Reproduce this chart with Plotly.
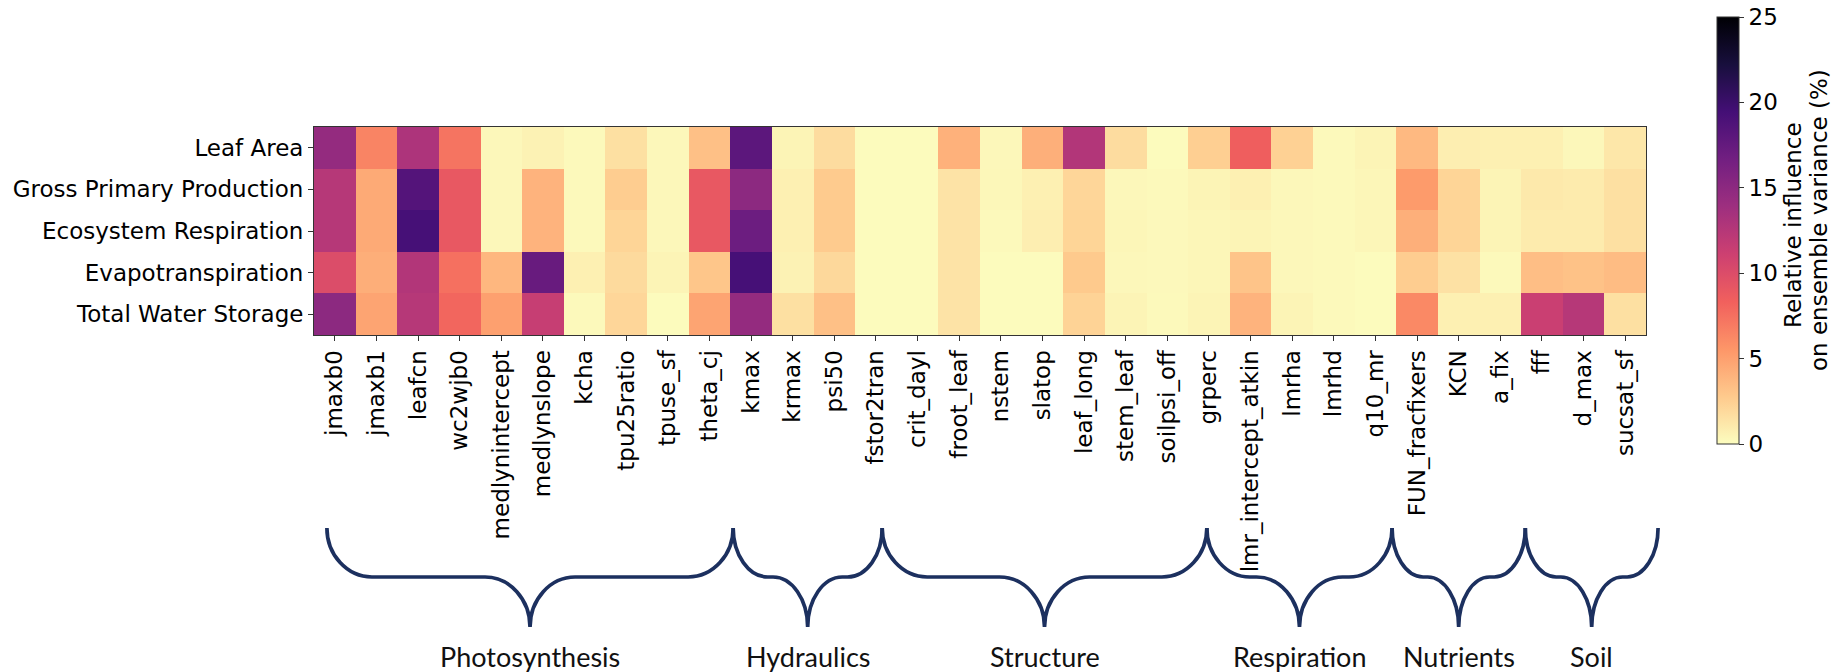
import plotly.graph_objects as go

# ---------------- data ----------------
params = ["jmaxb0", "jmaxb1", "leafcn", "wc2wjb0", "medlynintercept", "medlynslope",
          "kcha", "tpu25ratio", "tpuse_sf", "theta_cj", "kmax", "krmax", "psi50",
          "fstor2tran", "crit_dayl", "froot_leaf", "nstem", "slatop", "leaf_long",
          "stem_leaf", "soilpsi_off", "grperc", "lmr_intercept_atkin", "lmrha", "lmrhd",
          "q10_mr", "FUN_fracfixers", "KCN", "a_fix", "fff", "d_max", "sucsat_sf"]

outputs = ["Leaf Area", "Gross Primary Production", "Ecosystem Respiration",
           "Evapotranspiration", "Total Water Storage"]

leaf_area = [14.5, 6.5, 13.0, 7.3, 0.3, 0.6, 0.2, 1.6, 0.3, 3.3, 18.0, 0.5, 1.8, 0.1, 0.1, 4.1,
             0.3, 4.2, 12.7, 1.8, 0.1, 2.5, 8.5, 2.4, 0.2, 0.5, 3.7, 0.8, 0.7, 0.7, 0.3, 1.2]
gross_primary_production = [12.5, 4.5, 18.5, 9.0, 0.3, 4.0, 0.2, 2.6, 0.3, 9.0, 15.0, 0.7, 2.7, 0.1, 0.1, 1.4,
                            0.35, 0.7, 2.1, 0.3, 0.2, 0.5, 0.7, 0.3, 0.2, 0.4, 5.3, 2.2, 0.5, 1.1, 1.0, 1.6]
ecosystem_respiration = [12.5, 4.5, 19.3, 9.0, 0.3, 4.0, 0.2, 2.2, 0.3, 9.0, 17.0, 0.7, 2.7, 0.1, 0.1, 1.4,
                         0.2, 0.8, 2.2, 0.4, 0.25, 0.4, 0.5, 0.3, 0.2, 0.4, 4.2, 2.2, 0.5, 1.0, 1.0, 1.6]
evapotranspiration = [10.0, 4.3, 12.7, 7.5, 3.8, 17.3, 0.7, 1.9, 0.5, 3.0, 19.3, 0.6, 2.0, 0.1, 0.1, 1.4,
                      0.1, 0.1, 2.8, 0.3, 0.25, 0.4, 3.1, 0.3, 0.2, 0.1, 2.6, 1.5, 0.2, 3.4, 3.2, 3.5]
total_water_storage = [15.0, 4.8, 12.5, 8.0, 5.0, 11.5, 0.2, 2.1, 0.1, 4.8, 14.5, 1.6, 3.3, 0.1, 0.1, 1.4,
                       0.1, 0.1, 2.3, 0.5, 0.2, 0.5, 4.0, 0.5, 0.2, 0.1, 6.2, 0.7, 0.7, 11.3, 12.5, 1.6]

# parameter groups: name, first/last edge expressed in column units
group_names = ["Photosynthesis", "Hydraulics", "Structure", "Respiration", "Nutrients", "Soil"]
group_start = [-0.19, 9.57, 13.15, 20.95, 25.4, 28.6]
group_end = [9.57, 13.15, 20.95, 25.4, 28.6, 31.79]

colorbar_ticks = [0, 5, 10, 15, 20, 25]
colorbar_title_lines = ["Relative influence", "on ensemble variance (%)"]

# ---------------- layout constants ----------------
W, H = 1833, 672
X0, X1 = 314, 1646           # heatmap left/right (px)
Y0, Y1 = 127, 335            # heatmap top/bottom (px)
xdom = [X0 / W, X1 / W]
ydom = [1 - Y1 / H, 1 - Y0 / H]
TICKFONT = dict(family="DejaVu Sans", size=23, color="black")
BRACE_COLOR = "#1c305f"

z = [leaf_area, gross_primary_production, ecosystem_respiration,
     evapotranspiration, total_water_storage]
ncol = len(params)

fig = go.Figure(go.Heatmap(
    z=z, x=list(range(ncol)), y=outputs,
    colorscale="magma_r", zmin=0, zmax=25,
    colorbar=dict(
        x=1717 / W, xanchor="left", xpad=0,
        y=1 - 17 / H, yanchor="top", ypad=0,
        thickness=22, thicknessmode="pixels",
        len=(444 - 17) / H, lenmode="fraction",
        outlinewidth=1, outlinecolor="#333",
        ticks="outside", ticklen=5, tickwidth=1, tickcolor="#333",
        tickvals=colorbar_ticks, ticktext=[str(t) for t in colorbar_ticks],
        tickfont=TICKFONT,
    ),
    hovertemplate="%{y}<br>%{customdata}: %{z}<extra></extra>",
    customdata=[params] * len(outputs),
))

fig.update_xaxes(
    domain=xdom, range=[-0.5, ncol - 0.5],
    tickmode="array", tickvals=list(range(ncol)), ticktext=params,
    tickangle=-90, tickfont=TICKFONT,
    ticks="outside", ticklen=5, tickwidth=1, tickcolor="#333",
    showline=True, mirror=True, linecolor="#333", linewidth=1,
    showgrid=False, zeroline=False,
)
fig.update_yaxes(
    domain=ydom, autorange="reversed", tickfont=TICKFONT,
    ticks="outside", ticklen=5, tickwidth=1, tickcolor="#333",
    showline=True, mirror=True, linecolor="#333", linewidth=1,
    showgrid=False, zeroline=False,
)


def col_to_px(c):
    return X0 + (c + 0.5) / ncol * (X1 - X0)


def brace_path(a, b, yt=528, ym=577, yb=627, r=45, k=0.55):
    m = (a + b) / 2
    r = min(r, (b - a) / 4 * 0.93)

    def P(x, y):
        return f"{x / W:.5f},{1 - y / H:.5f}"

    segs = [
        "M" + P(a, yt),
        "C" + P(a, yt + k * (ym - yt)) + " " + P(a + r - k * r, ym) + " " + P(a + r, ym),
        "L" + P(m - r, ym),
        "C" + P(m - r + k * r, ym) + " " + P(m, yb - k * (yb - ym)) + " " + P(m, yb),
        "C" + P(m, yb + k * (ym - yb)) + " " + P(m + r - k * r, ym) + " " + P(m + r, ym),
        "L" + P(b - r, ym),
        "C" + P(b - r + k * r, ym) + " " + P(b, ym + (1 - k) * (yt - ym)) + " " + P(b, yt),
    ]
    return " ".join(segs)


shapes = []
annotations = []
for name, s, e in zip(group_names, group_start, group_end):
    a, b = col_to_px(s), col_to_px(e)
    shapes.append(dict(type="path", xref="paper", yref="paper",
                       path=brace_path(a, b),
                       line=dict(color=BRACE_COLOR, width=3.7)))
    annotations.append(dict(xref="paper", yref="paper",
                            x=((a + b) / 2) / W, y=1 - 656 / H,
                            xanchor="center", yanchor="middle",
                            text=name, showarrow=False,
                            font=dict(family="Lato, Carlito, Calibri, sans-serif", size=27, color="#111")))

# colorbar title: two rotated lines to the right of the colorbar
for line_text, xc, yc in zip(colorbar_title_lines, [1793, 1819], [225, 220]):
    annotations.append(dict(xref="paper", yref="paper", x=xc / W, y=1 - yc / H,
                            xanchor="center", yanchor="middle", textangle=-90,
                            text=line_text, showarrow=False,
                            font=TICKFONT))

fig.update_layout(
    width=W, height=H, autosize=False,
    margin=dict(l=0, r=0, t=0, b=0),
    paper_bgcolor="white", plot_bgcolor="white",
    shapes=shapes, annotations=annotations,
    font=dict(family="DejaVu Sans", color="black"),
)

fig.write_html("out.html")
